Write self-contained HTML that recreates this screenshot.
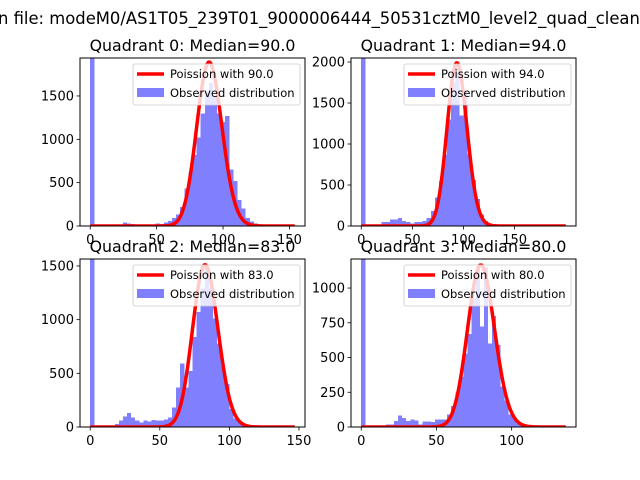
<!DOCTYPE html>
<html><head><meta charset="utf-8"><style>
html,body{margin:0;padding:0;background:#fff;}
svg{display:block;font-family:"DejaVu Sans","Liberation Sans",sans-serif;}
</style></head><body>
<svg id="fig" width="640" height="480" viewBox="0 0 640 480">
<rect x="0" y="0" width="640" height="480" fill="#fff"/>
<text x="-2" y="24" font-size="16.4" fill="#000">n file: modeM0/AS1T05_239T01_9000006444_50531cztM0_level2_quad_clean.evt</text>
</svg>
<script>
// ---- data ----
const quadNames = ["Quadrant 0","Quadrant 1","Quadrant 2","Quadrant 3"];
const medians = [90.0, 94.0, 83.0, 80.0];
const dataMax = [154, 200, 147, 136];
const poissonPeak = [1890, 1990, 1510, 1165];
const counts0 = [5000,0,0,0,0,0,0,10,40,30,25,20,10,15,15,20,30,25,40,60,90,130,220,430,620,820,1020,1300,1550,1650,1500,1300,1200,1270,650,520,300,200,90,50,30,8,5,3,3,2,2,2,2,2];
const counts1 = [5000,0,0,0,0,50,50,80,80,100,60,50,30,50,50,60,100,180,350,550,870,1300,1750,1970,1350,1650,880,560,330,140,60,20,8,5,4,3,3,2,2,2,2,2,2,2,2,2,2,2,2,2];
const counts2 = [5000,0,0,0,0,0,30,60,100,130,90,60,40,60,50,65,60,60,70,90,180,370,590,370,520,840,1070,1290,1500,1290,1010,780,575,400,170,78,45,30,25,10,3,3,3,2,2,2,2,2,2,2];
const counts3 = [5000,0,0,0,0,0,17,17,43,84,65,43,55,48,17,41,41,36,55,55,55,89,150,250,365,530,670,920,1160,725,1150,600,800,590,290,190,89,60,24,12,3,3,3,2,2,2,2,2,2,2];
const yTicks0 = [0,500,1000,1500];
const yTicks1 = [0,500,1000,1500,2000];
const yTicks2 = [0,500,1000,1500];
const yTicks3 = [0,250,500,750,1000];
const xTicks0 = [0,50,100,150];
const xTicks1 = [0,50,100,150];
const xTicks2 = [0,50,100,150];
const xTicks3 = [0,50,100];
const yMax = [1938, 2049, 1565, 1209];

const allCounts=[counts0,counts1,counts2,counts3];
const allY=[yTicks0,yTicks1,yTicks2,yTicks3];
const allX=[xTicks0,xTicks1,xTicks2,xTicks3];
const boxes=[[80,58,225,168],[351,58,225,168],[80,259,225,168],[351,259,225,168]];
const NS="http://www.w3.org/2000/svg";
const svg=document.getElementById('fig');
function mk(tag,attrs,parent){const e=document.createElementNS(NS,tag);for(const k in attrs)e.setAttribute(k,attrs[k]);(parent||svg).appendChild(e);return e;}
function lgamma(n){ if(n<2) return 0; return n*Math.log(n)-n+0.5*Math.log(2*Math.PI*n)+1/(12*n);}

for(let q=0;q<4;q++){
  const [L,T,W,H]=boxes[q];
  const xr=dataMax[q], m=0.05*xr, xmin=-m, xmax=xr+m;
  const xs=v=>L+(v-xmin)/(xmax-xmin)*W;
  const ys=v=>T+H-v/yMax[q]*H;
  const g=mk('g',{});
  
  
  const clip=mk('clipPath',{id:'c'+q},g);
  mk('rect',{x:L,y:T,width:W,height:H},clip);
  const bars=mk('g',{'clip-path':'url(#c'+q+')'},g);
  const counts=allCounts[q], bw=xr/counts.length;
  counts.forEach((c,i)=>{
    const r=mk('rect',{x:xs(i*bw),y:ys(c),width:xs((i+1)*bw)-xs(i*bw),height:Math.max(0,ys(0)-ys(c)),fill:'#8080ff','shape-rendering':'crispEdges'},bars);
    
    
  });
  const lam=medians[q];
  const lp=k=>k*Math.log(lam)-lam-lgamma(k);
  let pts=[];
  for(let k=0;k<=Math.round(xr);k++){pts.push(xs(k).toFixed(2)+','+ys(poissonPeak[q]*Math.exp(lp(k)-lp(lam))).toFixed(2));}
  const pl=mk('polyline',{points:pts.join(' '),fill:'none',stroke:'#ff0000','stroke-width':3.5,'stroke-linejoin':'round'},bars);
  
  
  const fr=mk('rect',{x:L,y:T,width:W,height:H,fill:'none',stroke:'#000','stroke-width':1},g);
  
  
  allY[q].forEach(v=>{
    mk('line',{x1:L-3.5,x2:L,y1:ys(v),y2:ys(v),stroke:'#000','stroke-width':0.8},g);
    const t=mk('text',{x:L-6,y:ys(v)+4.5,'font-size':13,'text-anchor':'end'},g);
    t.textContent=v;
    
    
  });
  allX[q].forEach(v=>{
    mk('line',{x1:xs(v),x2:xs(v),y1:T+H,y2:T+H+3.5,stroke:'#000','stroke-width':0.8},g);
    const t=mk('text',{x:xs(v),y:T+H+18,'font-size':13,'text-anchor':'middle'},g);
    t.textContent=v;
    
    
  });
  const ti=mk('text',{x:L+W/2,y:T-7,'font-size':15.8,'text-anchor':'middle'},g);
  ti.textContent=quadNames[q]+': Median='+medians[q].toFixed(1);
  
  
  const lg=mk('g',{},g);
  
  
  const lx=L+W-172, ly=T+6;
  mk('rect',{x:lx,y:ly,width:167,height:41,rx:2,fill:'#fff','fill-opacity':0.8,stroke:'#ccc','stroke-width':0.8},lg);
  mk('line',{x1:lx+4,x2:lx+31,y1:ly+10,y2:ly+10,stroke:'#ff0000','stroke-width':3.5},lg);
  const t1=mk('text',{x:lx+37,y:ly+14,'font-size':11.5},lg);
  t1.textContent='Poission with '+medians[q].toFixed(1);
  
  
  mk('rect',{x:lx+4,y:ly+24,width:27,height:9,fill:'#8080ff'},lg);
  const t2=mk('text',{x:lx+37,y:ly+33,'font-size':11.5},lg);
  t2.textContent='Observed distribution';
  
  
}
</script>
</body></html>
